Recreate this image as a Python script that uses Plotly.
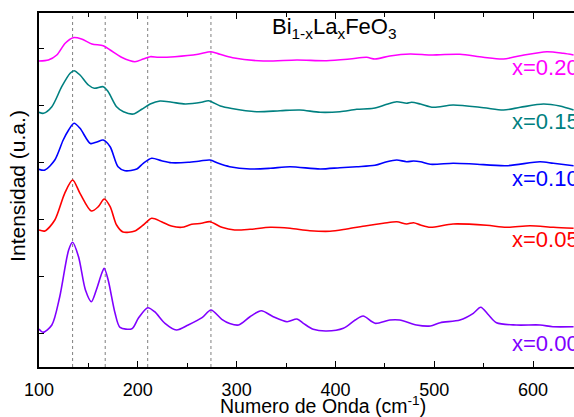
import plotly.graph_objects as go

# ---- data ----
wn_000 = [100, 104, 113, 121, 130, 134, 140, 147, 153, 158, 163.5, 166, 170, 177, 182, 194, 200.5, 210, 217, 227.5,
          239, 251, 265, 274, 285, 293, 302, 313.5, 325, 337, 351, 361, 367.5, 377.5, 391, 408, 420, 428, 440, 455,
          465, 482, 496, 506, 526, 539.5, 547, 555, 563, 583, 607, 620, 641]
int_000 = [38, 34.7, 42, 70.3, 117, 124.7, 110.3, 77, 65.3, 77, 93.7, 98.7, 87, 53.7, 39.7, 38.3, 48.7, 59.3, 55.3, 43.7,
           37, 42, 49.3, 57, 47.7, 43.5, 42, 50.3, 56.3, 50.3, 45.3, 48, 43.7, 37.7, 36, 38.7, 47, 51, 43.7, 47,
           47, 42, 41, 44.3, 47, 53.7, 59.7, 52, 44.3, 42, 42, 40.3, 40.3]

wn_005 = [100, 106, 116, 126, 134, 141.5, 153, 160, 166, 172, 178.5, 185, 197, 205.5, 214, 224, 234, 244.5, 254.5, 264.5,
          273, 285, 298, 313.5, 334, 354, 374, 394.5, 411.5, 431.5, 448.5, 462, 472, 479, 486, 496, 519, 553, 573, 597,
          620.5, 641]
int_005 = [137, 136, 147, 173.7, 187, 173.7, 156, 160.3, 168, 160.3, 142, 135, 136, 142, 148.7, 145.3, 141, 139.7, 142.7, 143.7,
           145.3, 139.7, 137, 137.7, 139.7, 138.7, 136.3, 135.7, 138, 141.3, 143.7, 145.3, 143, 144.3, 142, 139.7, 143, 141.7, 139.7, 141.3,
           139.7, 138.7]

wn_010 = [100, 106, 116, 124.5, 130, 135.5, 141.5, 152, 158.5, 165, 172, 180, 187, 199, 205.5, 214, 224, 234, 251, 263,
          273, 281.5, 293, 313.5, 334, 354, 384.5, 404.5, 421.5, 440, 452, 462, 472, 479, 486, 496, 519, 539.5, 573, 607,
          620.5, 641]
int_010 = [197.7, 197, 207, 227, 237, 243.7, 238.7, 223.5, 225, 227, 220.3, 200.3, 196.3, 198, 203.7, 208.7, 206.3, 204.3, 204.7, 206,
           207, 203.7, 200.3, 198, 198.7, 200.3, 198, 199.3, 200.3, 201.7, 205.3, 207, 205.3, 206, 205.3, 202.7, 203.7, 203, 201.3, 205.3,
           203.7, 201.3]

wn_015 = [100, 104.5, 113, 123, 131.5, 135.5, 141.5, 150, 156, 165, 170, 178.5, 185.5, 195.5, 204, 212.5, 222.5, 234.5, 248, 264.5,
          271.5, 283.5, 295, 320, 344, 364, 384.5, 404.5, 421.5, 438.5, 452, 462, 472, 477, 486, 499, 519, 550, 570, 587,
          610.5, 627, 641]
int_015 = [254.7, 253.7, 260.3, 280.3, 293.7, 296.3, 292, 282, 278.7, 280.3, 275.3, 260.3, 255.3, 253, 257.7, 263, 266, 264.7, 263, 264.7,
           266.3, 261, 258.5, 255.3, 256.3, 257, 254.7, 255.3, 257.7, 258.7, 262.7, 265.3, 263.7, 264.7, 263, 259.7, 262, 259.3, 257, 259.7,
           263, 261, 257]

wn_020 = [100, 109.5, 118, 126.5, 134.5, 143, 153.5, 165, 172, 183.5, 197, 205.5, 212.5, 221, 237.5, 261, 274, 283, 296, 327,
          361, 391, 414.5, 431.5, 440, 455, 475.5, 495.5, 506, 526, 549.5, 570, 587, 614, 630.5, 641]
int_020 = [306, 307, 312, 323.7, 329.3, 328, 323, 321.3, 317, 309.7, 305.3, 308, 310.3, 309.7, 310.3, 312.7, 315.3, 312.7, 309.3, 306,
           307, 306.3, 308, 309.7, 308, 311, 313, 312, 312.3, 312.7, 309.7, 308, 311.3, 315.3, 313.7, 312]

series_labels = ["x=0.00", "x=0.05", "x=0.10", "x=0.15", "x=0.20"]
series_colors = ["#8000FF", "#FF0000", "#0000FF", "#008080", "#FF00FF"]
label_y = [23.7, 128, 188.7, 245.3, 299.7]
label_x = 577
peak_lines = [134, 167, 210, 274]

wns = [wn_000, wn_005, wn_010, wn_015, wn_020]
ints = [int_000, int_005, int_010, int_015, int_020]

FONT = "Arial, Liberation Sans, sans-serif"

fig = go.Figure()
for p in peak_lines:
    fig.add_vline(x=p, line=dict(color="#7f7f7f", width=1, dash="dot"), layer="below")

for wn, it, name, col in zip(wns, ints, series_labels, series_colors):
    fig.add_trace(go.Scatter(x=wn, y=it, mode="lines", name=name,
                             line=dict(color=col, width=1.6, shape="spline", smoothing=0.8),
                             showlegend=False, hoverinfo="skip"))

for name, col, ly in zip(series_labels, series_colors, label_y):
    fig.add_annotation(x=label_x, y=ly, xref="x", yref="y", text=name, showarrow=False,
                       xanchor="left", yanchor="middle", font=dict(family=FONT, size=22, color=col))

fig.add_annotation(x=0.552, y=0.957, xref="paper", yref="paper",
                   text="Bi<sub>1-x</sub>La<sub>x</sub>FeO<sub>3</sub>", showarrow=False,
                   xanchor="center", yanchor="middle", font=dict(family=FONT, size=22, color="black"))

fig.add_annotation(x=0.53, y=-0.108, xref="paper", yref="paper",
                   text="Numero de Onda (cm<sup>-1</sup>)", showarrow=False,
                   xanchor="center", yanchor="middle", font=dict(family=FONT, size=19.5, color="black"))

fig.add_annotation(x=-0.039, y=0.512, xref="paper", yref="paper", textangle=-90,
                   text="Intensidad (u.a.)", showarrow=False,
                   xanchor="center", yanchor="middle", font=dict(family=FONT, size=21, color="black"))

fig.update_layout(
    width=574, height=417,
    margin=dict(l=39, r=0, t=13, b=50),
    paper_bgcolor="white", plot_bgcolor="white",
    font=dict(family=FONT, color="black"),
    xaxis=dict(range=[100, 641.4], tickmode="linear", tick0=100, dtick=100,
               ticks="inside", ticklen=6, tickwidth=1.2, tickcolor="black",
               minor=dict(ticks="inside", dtick=50, tick0=100, ticklen=4, tickwidth=1.2, tickcolor="black"),
               showline=True, linecolor="black", linewidth=1.5, mirror="ticks",
               showgrid=False, zeroline=False, tickfont=dict(size=18, family=FONT, color="black"),
               ticklabelstandoff=6),
    yaxis=dict(range=[0, 354], tickmode="linear", tick0=34, dtick=57,
               ticks="inside", ticklen=5, tickwidth=1.2, tickcolor="black",
               showticklabels=False, showline=True, linecolor="black", linewidth=1.5,
               showgrid=False, zeroline=False),
)

fig.write_html("out.html")
